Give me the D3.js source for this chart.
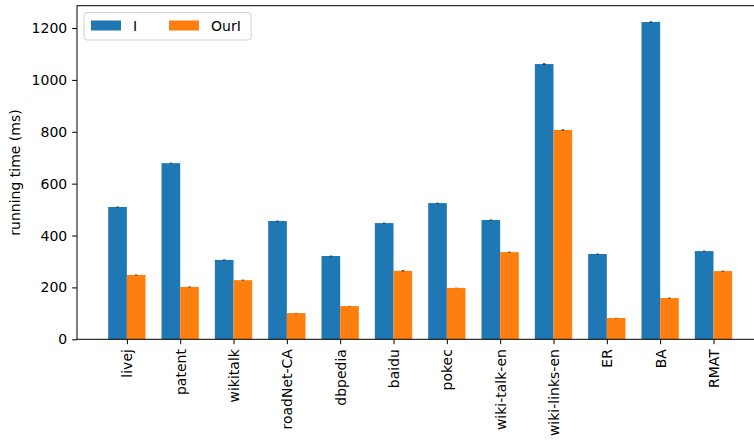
<!DOCTYPE html>
<html>
<head>
<meta charset="utf-8">
<script src="https://cdn.jsdelivr.net/npm/d3@7"></script>
<style>
  html, body { margin: 0; padding: 0; background: #fff; }
  svg { display: block; font-family: "DejaVu Sans", sans-serif; }
</style>
</head>
<body>
<svg id="chart" width="754" height="447"></svg>
<script>
// Datasets along the x axis
const categories = ["livej", "patent", "wikitalk", "roadNet-CA", "dbpedia", "baidu",
  "pokec", "wiki-talk-en", "wiki-links-en", "ER", "BA", "RMAT"];

// Mean running time (ms) for each method
const seriesNames = ["I", "OurI"];
const valuesI    = [510, 679, 306, 456, 321, 448, 525, 460, 1061, 329, 1223, 340];
const valuesOurI = [248, 202, 228, 101, 128, 264, 198, 336, 807, 82, 159, 263];

// Spread of repeated runs (ms)
const errI    = [2, 2, 2, 2, 2, 2, 2, 2, 4, 2, 3, 2];
const errOurI = [2, 2, 2, 1, 1, 3, 1, 2, 3, 1, 2, 2];

// Y axis ticks
const yTicks = [0, 200, 400, 600, 800, 1000, 1200];
const yLabel = "running time (ms)";

const colors = ["#1f77b4", "#ff7f0e"];

const svg = d3.select("#chart");
const plotLeft = 77, plotTop = 5.7, plotBottom = 339.3;
const step = 53.33;
const barW = 0.35;
const tickLen = 4.9, tickPad = 4.9, fontPx = 14;

// Category index -> pixel; axes run past the right edge of the canvas
const x = d3.scaleLinear()
  .domain([-0.935, categories.length - 1 + 0.935])
  .range([plotLeft, plotLeft + step * (categories.length - 1 + 1.87)]);
const y = d3.scaleLinear().domain([0, 1286]).range([plotBottom, plotTop]);

const series = [
  { name: seriesNames[0], values: valuesI, err: errI, offset: -barW, color: colors[0] },
  { name: seriesNames[1], values: valuesOurI, err: errOurI, offset: 0, color: colors[1] }
];

const plot = svg.append("g");

series.forEach(s => {
  plot.selectAll(null)
    .data(s.values)
    .join("rect")
    .attr("x", (d, i) => x(i + s.offset))
    .attr("width", x(barW) - x(0))
    .attr("y", d => y(d))
    .attr("height", d => y(0) - y(d))
    .attr("fill", s.color);
});

// Error bars
series.forEach(s => {
  plot.selectAll(null)
    .data(s.values)
    .join("line")
    .attr("x1", (d, i) => x(i + s.offset + barW / 2))
    .attr("x2", (d, i) => x(i + s.offset + barW / 2))
    .attr("y1", (d, i) => y(d - s.err[i]))
    .attr("y2", (d, i) => y(d + s.err[i]))
    .attr("stroke", "#1a1a1a")
    .attr("stroke-opacity", 0.75)
    .attr("stroke-width", 2.5);
});

// Y axis
const yAxis = d3.axisLeft(y).tickValues(yTicks).tickFormat(d3.format("d"))
  .tickSize(tickLen).tickPadding(tickPad);
const gy = svg.append("g").attr("transform", `translate(${plotLeft},0)`).call(yAxis);
gy.select(".domain").remove();
gy.selectAll("text").attr("font-size", fontPx).attr("fill", "#000").attr("font-family", "DejaVu Sans");
gy.selectAll("line").attr("stroke", "#000").attr("stroke-width", 1);

// X axis with rotated labels
const xAxis = d3.axisBottom(x)
  .tickValues(d3.range(categories.length))
  .tickFormat(i => categories[i])
  .tickSize(tickLen);
const gx = svg.append("g").attr("transform", `translate(0,${plotBottom})`).call(xAxis);
gx.select(".domain").remove();
gx.selectAll("line").attr("stroke", "#000").attr("stroke-width", 1);
gx.selectAll("text")
  .attr("font-size", fontPx)
  .attr("fill", "#000")
  .attr("font-family", "DejaVu Sans")
  .attr("text-anchor", "end")
  .attr("dy", null)
  .attr("y", 0)
  .attr("x", 0)
  .attr("dominant-baseline", "central")
  .attr("transform", `translate(0,${tickLen + tickPad}) rotate(-90)`);

// Axes frame
const xr = x.range();
svg.append("rect")
  .attr("x", plotLeft).attr("y", plotTop)
  .attr("width", xr[1] - plotLeft).attr("height", plotBottom - plotTop)
  .attr("fill", "none").attr("stroke", "#000").attr("stroke-width", 1);

// Y axis title
svg.append("text")
  .attr("transform", `translate(15,${(plotTop + plotBottom) / 2}) rotate(-90)`)
  .attr("text-anchor", "middle")
  .attr("dominant-baseline", "central")
  .attr("font-size", fontPx)
  .text(yLabel);

// Legend
const lg = svg.append("g").attr("transform", "translate(84,12.5)");
lg.append("rect")
  .attr("width", 167).attr("height", 27.5).attr("rx", 3)
  .attr("fill", "#fff").attr("fill-opacity", 0.8)
  .attr("stroke", "#d0d0d0").attr("stroke-width", 1);
const itemX = [7, 85];
series.forEach((s, k) => {
  lg.append("rect")
    .attr("x", itemX[k]).attr("y", 8)
    .attr("width", 30).attr("height", 10)
    .attr("fill", s.color);
  lg.append("text")
    .attr("x", itemX[k] + 42).attr("y", 13.5)
    .attr("dominant-baseline", "central")
    .attr("font-size", fontPx)
    .text(s.name);
});
</script>
</body>
</html>
